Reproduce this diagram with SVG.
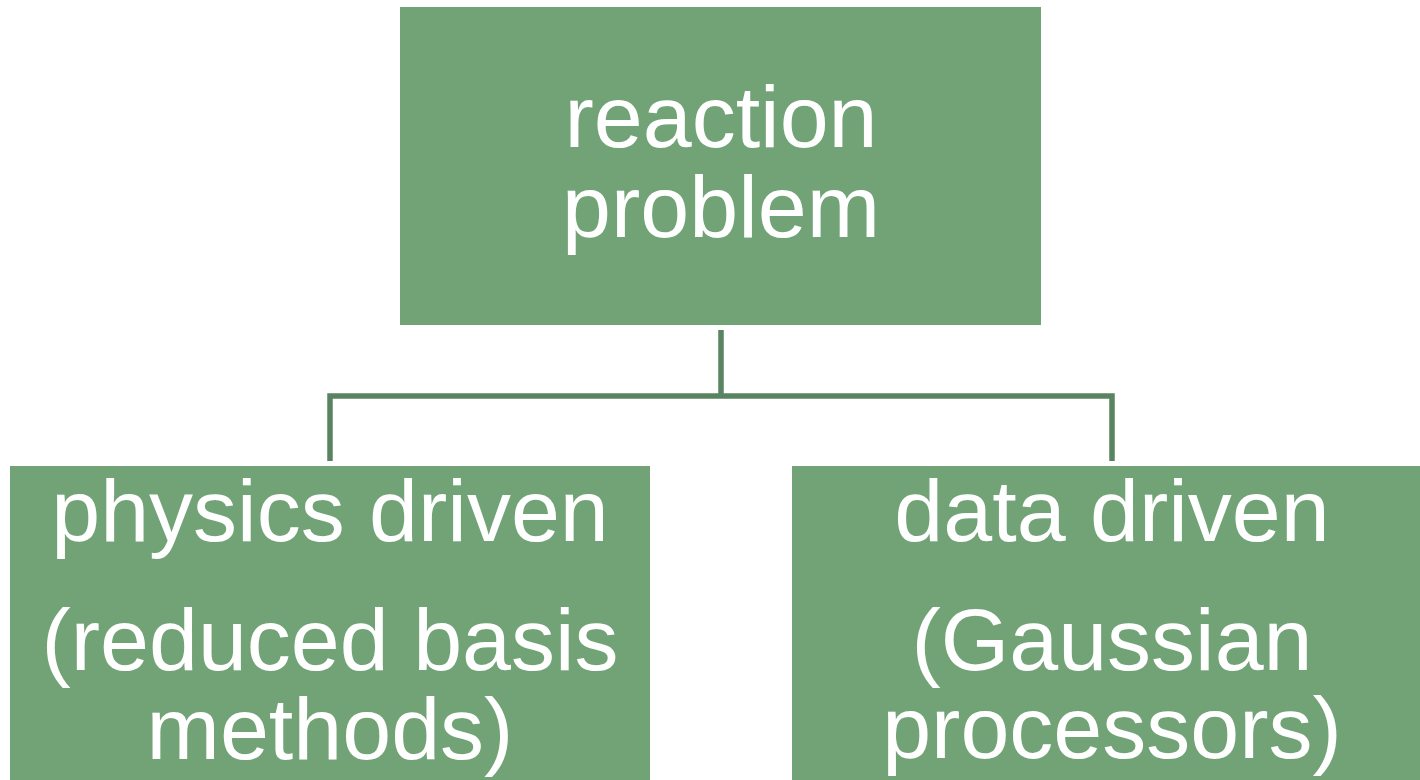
<svg xmlns="http://www.w3.org/2000/svg" width="1420" height="780" viewBox="0 0 1420 780">
<style>
.box{fill:#71a376;}
.lbl{fill:#ffffff;font-family:"Liberation Sans",Arial,sans-serif;font-size:88px;text-anchor:middle;}
.conn{fill:none;stroke:#5a8461;stroke-width:5.5;stroke-linejoin:miter;}
</style>
<rect width="1420" height="780" fill="#ffffff"/>
<g id="connectors">
<path class="conn" d="M721,330 V396"/>
<path class="conn" d="M330,461 V396 H1112 V461"/>
</g>
<g id="node-reaction-problem">
<rect class="box" x="400" y="7" width="641" height="318"/>
<text class="lbl" x="721" y="147">reaction</text>
<text class="lbl" x="721" y="237">problem</text>
</g>
<g id="node-physics-driven">
<rect class="box" x="10" y="466" width="640" height="320"/>
<text class="lbl" x="330" y="541">physics driven</text>
<text class="lbl" x="330" y="670">(reduced basis</text>
<text class="lbl" x="330" y="759">methods)</text>
</g>
<g id="node-data-driven">
<rect class="box" x="792" y="466" width="640" height="320"/>
<text class="lbl" x="1112" y="541">data driven</text>
<text class="lbl" x="1112" y="670">(Gaussian</text>
<text class="lbl" x="1112" y="758">processors)</text>
</g>
</svg>
